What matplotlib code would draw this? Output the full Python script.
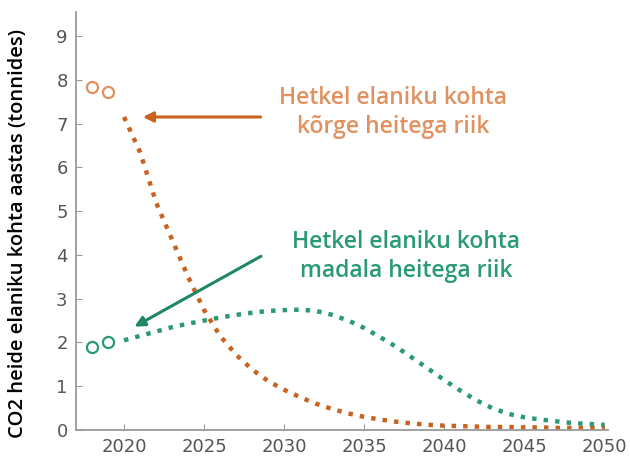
import matplotlib
matplotlib.use("Agg")
import matplotlib.pyplot as plt

# data
years = list(range(2020, 2051))
high_emit = [7.15, 6.35, 5.2, 4.35, 3.5, 2.74, 2.15, 1.72, 1.38, 1.12,
             0.92, 0.75, 0.6, 0.48, 0.38, 0.3, 0.24, 0.19, 0.15, 0.12,
             0.1, 0.09, 0.08, 0.07, 0.07, 0.06, 0.06, 0.05, 0.05, 0.05, 0.05]
low_emit = [2.05, 2.15, 2.25, 2.35, 2.43, 2.5, 2.57, 2.63, 2.68, 2.72,
            2.74, 2.75, 2.72, 2.63, 2.5, 2.33, 2.12, 1.9, 1.65, 1.4,
            1.14, 0.9, 0.68, 0.5, 0.37, 0.29, 0.24, 0.2, 0.16, 0.14, 0.12]
hist_years = [2018, 2019]
hist_high = [7.83, 7.73]
hist_low = [1.9, 2.0]

ORANGE = "#c8621e"
ORANGE_TXT = "#e0915f"
GREEN = "#2a9a72"
GREEN_ARROW = "#1f8762"
GREY = "#9a9a9a"

fig = plt.figure(figsize=(6.3, 4.58), dpi=100)
ax = fig.add_axes([0.1206, 0.061, 0.844, 0.913])

dot = (0, (1, 1.6))
ax.plot(years, high_emit, color=ORANGE, lw=3.2, linestyle=dot, dash_capstyle="butt")
ax.plot(years, low_emit, color=GREEN, lw=3.2, linestyle=dot, dash_capstyle="butt")
ax.plot(hist_years, hist_high, "o", mfc="none", mec=ORANGE_TXT, mew=1.6, ms=8)
ax.plot(hist_years, hist_low, "o", mfc="none", mec=GREEN, mew=1.6, ms=8)

ax.set_xlim(2017, 2050.2)
ax.set_ylim(0, 9.55)
ax.set_xticks(range(2020, 2051, 5))
ax.set_yticks(range(0, 10))
ax.tick_params(direction="in", length=4, color=GREY, labelcolor="#555555",
               labelsize=13, pad=6)
for s in ["top", "right"]:
    ax.spines[s].set_visible(False)
for s in ["left", "bottom"]:
    ax.spines[s].set_color(GREY)
    ax.spines[s].set_linewidth(1.3)

ax.set_ylabel("CO2 heide elaniku kohta aastas (tonnides)", fontsize=14.5,
              color="black", family="Open Sans", fontweight="semibold")
ax.yaxis.set_label_coords(-0.09, 0.47)

# annotations
head = "-|>,head_length=0.6,head_width=0.3"
ax.annotate("", xy=(2021.0, 7.15), xytext=(2028.7, 7.15),
            arrowprops=dict(arrowstyle=head, color=ORANGE, lw=2.2))
ax.text(2036.8, 7.25, "Hetkel elaniku kohta\nkõrge heitega riik", color=ORANGE_TXT,
        fontsize=16.5, family="Open Sans", fontweight="semibold",
        ha="center", va="center", linespacing=1.25)

ax.annotate("", xy=(2020.5, 2.33), xytext=(2028.7, 4.0),
            arrowprops=dict(arrowstyle=head, color=GREEN_ARROW, lw=2.2))
ax.text(2037.6, 3.96, "Hetkel elaniku kohta\nmadala heitega riik", color=GREEN,
        fontsize=16.5, family="Open Sans", fontweight="semibold",
        ha="center", va="center", linespacing=1.25)

fig.savefig("out.png", dpi=100)
